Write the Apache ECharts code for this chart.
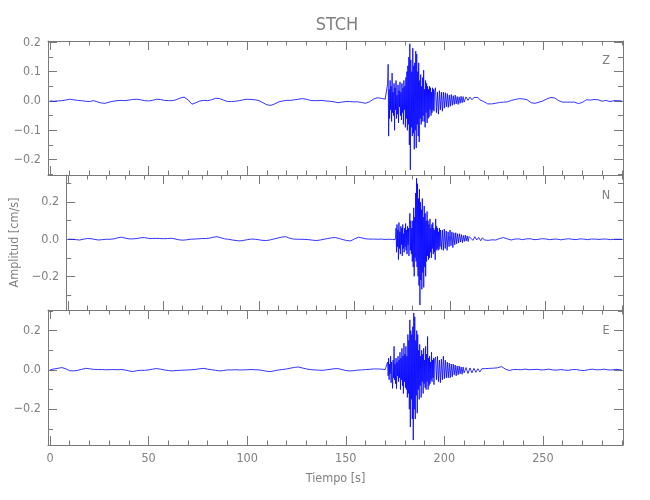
<!DOCTYPE html>
<html>
<head>
<meta charset="utf-8">
<script src="https://cdn.jsdelivr.net/npm/echarts@6/dist/echarts.min.js"></script>
<style>html,body{margin:0;padding:0;background:#fff}#c{width:650px;height:500px}</style>
</head>
<body>
<div id="c"></div>
<script>
// ---- sampling of the segments (seconds) ----
const QUIET_T0 = 0,      QUIET_DT = 2;     // 0 .. 170
const PEAK_T0 = 170.25,  PEAK_DT = 0.25;   // 170.25 .. 195
const DECAY_T0 = 195.5,  DECAY_DT = 0.5;   // 195.5 .. 210
const CODA_T0 = 211,     CODA_DT = 1;      // 211 .. 290

// ---- Z component (cm/s) ----
const zQuiet = [0.000,-0.001,0.000,0.001,0.003,0.006,0.004,0.002,0.001,-0.001,
 -0.002,0.001,-0.003,-0.007,-0.008,-0.004,-0.001,0.001,0.002,0.001,
 0.003,0.005,0.006,0.004,0.001,0.000,0.002,0.006,0.005,0.002,
 0.001,0.001,0.004,0.010,0.013,0.004,-0.011,-0.006,0.000,0.002,
 0.001,0.004,0.009,0.008,0.003,-0.002,-0.002,-0.001,0.001,0.004,
 0.006,0.005,0.004,0.001,-0.006,-0.013,-0.015,-0.010,-0.003,0.000,
 0.002,0.002,0.004,0.006,0.008,0.006,0.002,0.001,0.001,0.002,
 0.000,-0.001,-0.003,-0.006,-0.004,-0.002,-0.002,-0.003,-0.003,-0.005,
 -0.008,-0.003,0.006,0.011,0.009,0.006];
const zPeak = [0.006,0.004,0.005,0.002,0.06,0.125,-0.12,0.04,-0.06,0.07,
 -0.03,0.05,-0.07,0.095,-0.04,0.03,-0.05,0.06,-0.1,0.045,
 -0.03,0.07,-0.06,0.02,-0.045,0.055,-0.075,0.035,-0.02,0.065,
 -0.05,0.03,-0.065,0.06,-0.04,0.045,-0.08,0.07,-0.03,0.05,
 -0.09,0.08,-0.06,0.1,-0.1,0.12,-0.08,0.15,-0.15,0.195,
 -0.235,0.14,-0.09,0.1,-0.12,0.18,-0.11,0.12,-0.165,0.13,
 -0.1,0.17,-0.16,0.16,-0.08,0.1,-0.12,0.13,-0.14,0.07,
 -0.06,0.09,-0.08,0.05,-0.07,0.08,-0.05,0.105,-0.07,0.04,
 -0.09,0.07,-0.04,0.06,-0.075,0.05,-0.06,0.04,-0.055,0.05,
 -0.03,0.045,-0.05,0.03,-0.04,0.045,-0.03,0.04,-0.035,0.03];
const zDecay = [0.045,-0.04,0.03,-0.045,0.035,-0.03,0.03,-0.035,0.03,-0.025,
 0.028,-0.02,0.025,-0.022,0.02,-0.018,0.022,-0.015,0.018,-0.012,
 0.02,-0.01,0.015,-0.012,0.014,-0.008,0.016,-0.006,0.015,-0.004];
const zCoda = [0.014,0.002,0.013,0.004,0.012,0.006,0.012,0.004,0.008,-0.002,
 -0.006,-0.01,-0.006,-0.01,-0.004,-0.008,-0.002,-0.005,-0.001,-0.004,
 0.000,-0.003,0.001,0.002,0.003,0.005,0.007,0.008,0.007,0.007,
 0.006,0.004,-0.002,-0.006,-0.008,-0.008,-0.006,-0.004,-0.002,0.000,
 0.003,0.007,0.011,0.012,0.012,0.010,0.006,0.001,-0.003,-0.004,
 -0.004,-0.004,-0.003,-0.004,-0.002,-0.004,-0.007,-0.009,-0.008,-0.005,
 -0.001,0.004,0.006,0.003,0.002,0.005,0.006,0.004,0.002,-0.001,
 0.001,0.002,-0.001,-0.002,0.000,0.001,0.002,0.001,0.000,0.000];

// ---- N component ----
const nQuiet = [0.000,0.000,-0.002,-0.004,0.000,0.004,0.003,-0.001,-0.004,-0.002,
 0.000,0.000,0.002,0.008,0.011,0.006,0.002,0.002,0.004,0.008,
 0.009,0.005,0.004,0.005,0.004,0.003,0.004,0.005,0.002,-0.003,
 -0.005,-0.003,0.000,0.001,0.002,0.004,0.004,0.006,0.011,0.014,
 0.008,0.002,0.000,-0.004,-0.007,-0.009,-0.006,-0.002,0.001,0.000,
 -0.003,-0.006,-0.007,-0.003,0.002,0.007,0.012,0.014,0.006,0.001,
 0.000,0.000,-0.001,-0.002,-0.005,-0.007,-0.004,0.000,0.004,0.008,
 0.009,0.004,-0.002,-0.007,-0.009,0.002,0.011,0.007,0.002,0.001,
 0.001,0.000,0.001,-0.001,0.000,-0.001];
const nPeak = [0.001,-0.001,0.000,0.002,-0.002,0.01,0.06,-0.07,0.08,-0.04,
 0.05,-0.11,0.09,-0.05,0.04,-0.08,0.07,-0.03,0.06,-0.09,
 0.08,-0.05,0.03,-0.07,0.06,-0.04,0.085,-0.06,0.05,-0.08,
 0.07,-0.03,0.06,-0.09,0.08,0.14,-0.06,0.1,-0.08,0.06,
 -0.12,0.1,-0.15,0.17,-0.2,0.12,-0.1,0.25,-0.12,0.33,
 -0.15,0.3,-0.2,0.22,-0.25,0.27,-0.355,0.2,-0.22,0.16,
 -0.27,0.22,-0.18,0.12,-0.26,0.18,-0.15,0.14,-0.2,0.1,
 -0.12,0.15,-0.09,0.1,-0.11,0.08,-0.1,0.11,-0.07,0.06,
 -0.1,0.08,-0.05,0.09,-0.08,0.06,-0.07,0.05,-0.11,0.11,
 -0.06,0.07,-0.05,0.06,-0.06,0.04,-0.055,0.06,-0.04,0.05];
const nDecay = [-0.055,0.05,-0.06,0.055,-0.05,0.045,-0.06,0.04,-0.04,0.05,
 -0.035,0.04,-0.045,0.035,-0.03,0.035,-0.025,0.03,-0.02,0.03,
 -0.015,0.025,-0.018,0.02,-0.012,0.022,-0.01,0.018,-0.012,0.015];
const nCoda = [0.012,-0.006,0.014,-0.004,0.01,-0.008,0.008,-0.004,0.006,-0.006,
 0.004,-0.003,0.002,-0.004,0.001,0.004,0.008,0.009,0.006,0.002,
 -0.002,-0.004,-0.003,0.001,0.003,0.002,0.000,-0.002,-0.001,0.002,
 0.004,0.003,0.000,-0.002,-0.003,-0.001,0.001,0.003,0.004,0.002,
 0.000,-0.002,-0.002,0.000,0.002,0.001,-0.001,-0.003,-0.002,0.000,
 0.002,0.003,0.002,0.000,-0.001,-0.002,0.000,0.002,0.003,0.001,
 -0.001,-0.002,-0.001,0.001,0.002,0.001,0.000,-0.001,0.000,0.001,
 0.002,0.001,-0.001,-0.002,-0.001,0.000,0.001,0.000,-0.001,0.000];

// ---- E component ----
const eQuiet = [0.000,0.005,0.008,0.012,0.006,-0.004,-0.005,-0.002,0.003,0.008,
 0.006,0.003,0.002,0.002,0.001,0.001,0.002,0.001,0.002,0.000,
 -0.005,-0.008,-0.004,-0.002,-0.002,0.000,0.004,0.007,0.004,0.000,
 -0.003,-0.005,-0.003,-0.002,-0.001,0.000,0.001,0.003,0.006,0.008,
 0.004,0.001,-0.002,-0.005,-0.003,0.000,0.000,0.001,0.000,0.000,
 0.001,0.002,0.001,0.000,-0.003,-0.007,-0.008,-0.004,0.000,0.002,
 0.005,0.009,0.013,0.015,0.010,0.005,0.002,0.000,-0.001,-0.002,
 0.000,0.003,0.006,0.007,0.002,-0.003,-0.005,-0.004,-0.001,0.000,
 0.002,0.003,0.005,0.005,0.004,0.002];
const ePeak = [0.002,0.003,0.002,0.004,0.04,-0.03,0.06,-0.05,0.03,-0.02,
 0.07,-0.065,0.04,-0.03,-0.094,0.05,-0.04,0.12,-0.05,0.03,
 -0.07,0.06,-0.095,0.04,-0.03,0.07,-0.06,0.05,-0.04,0.09,
 -0.1,0.06,-0.05,0.11,-0.08,0.07,-0.12,0.136,-0.06,0.08,
 -0.09,0.12,-0.1,0.07,-0.14,0.18,-0.12,0.15,-0.2,0.255,
 -0.29,0.2,-0.15,0.18,-0.25,0.22,-0.357,0.29,-0.2,0.27,
 -0.25,0.15,-0.13,0.2,-0.22,0.18,-0.1,0.1,-0.15,0.13,
 -0.08,0.07,-0.14,0.1,-0.06,0.08,-0.12,0.11,-0.07,0.05,
 -0.09,0.12,-0.1,0.08,-0.06,0.17,-0.1,0.06,-0.08,0.07,
 -0.07,0.04,-0.05,0.09,-0.06,0.05,-0.04,0.06,-0.075,0.05];
const eDecay = [0.065,-0.05,0.07,-0.06,0.05,-0.065,0.055,-0.05,0.07,-0.045,
 0.05,-0.04,0.04,-0.04,0.035,-0.04,0.03,-0.035,0.03,-0.025,
 0.025,-0.03,0.02,-0.025,0.02,-0.02,0.015,-0.022,0.015,-0.015];
const eCoda = [0.012,-0.018,0.01,-0.015,0.008,-0.012,0.006,-0.01,0.006,-0.004,
 0.007,0.000,0.008,0.004,0.009,0.006,0.011,0.014,0.017,0.012,
 0.004,-0.002,-0.003,-0.002,0.002,0.004,0.002,0.000,0.001,0.003,
 0.004,0.003,0.001,0.000,0.002,0.004,0.003,0.001,0.000,-0.001,
 0.001,0.003,0.004,0.002,0.000,-0.002,-0.001,0.001,0.002,0.001,
 -0.001,-0.003,-0.002,0.000,0.002,0.003,0.002,0.000,-0.002,-0.004,
 -0.003,-0.001,0.001,0.003,0.004,0.003,0.001,0.000,0.001,0.003,
 0.004,0.002,0.000,-0.001,0.000,0.002,0.003,0.002,0.001,0.000];

// ---- ticks & texts ----
const xMajor = [0, 50, 100, 150, 200, 250];
const xMinor = [10,20,30,40,60,70,80,90,110,120,130,140,160,170,180,190,210,220,230,240,260,270,280,290];
const zMajor = [-0.2, -0.1, 0, 0.1, 0.2];
const zMinor = [-0.25, -0.15, -0.05, 0.05, 0.15];
const neMajor = [-0.2, 0, 0.2];
const neMinor = [-0.3, -0.1, 0.1, 0.3];
const componentNames = ['Z', 'N', 'E'];
const stationName = 'STCH';

function trace(q, p, d, c) {
  const pts = [];
  q.forEach((v, i) => pts.push([QUIET_T0 + i * QUIET_DT, v]));
  p.forEach((v, i) => pts.push([PEAK_T0 + i * PEAK_DT, v]));
  d.forEach((v, i) => pts.push([DECAY_T0 + i * DECAY_DT, v]));
  c.forEach((v, i) => pts.push([CODA_T0 + i * CODA_DT, v]));
  return pts;
}

const FONT = '"Liberation Sans Narrow", "DejaVu Sans Condensed", sans-serif';
const TXT = '#808080', LINE = '#7a7a7a';
const X_MIN = -1, X_MAX = 290.6;
const panels = [
  { top: 41, height: 134, min: -0.2525, max: 0.2045, major: zMajor, minor: zMinor, data: trace(zQuiet, zPeak, zDecay, zCoda) },
  { top: 175, height: 135, min: -0.382, max: 0.347, major: neMajor, minor: neMinor, data: trace(nQuiet, nPeak, nDecay, nCoda) },
  { top: 310, height: 135, min: -0.382, max: 0.305, major: neMajor, minor: neMinor, data: trace(eQuiet, ePeak, eDecay, eCoda) }
];

const grids = [], xAxes = [], yAxes = [], series = [];
panels.forEach((p, g) => {
  grids.push({ left: 48, right: 27, top: p.top, height: p.height, containLabel: false });
  const isBottom = g === 2;
  const mkX = (pos, vals, len, lineOn, labels) => ({
    type: 'value', gridIndex: g, position: pos, min: X_MIN, max: X_MAX,
    axisLine: { show: lineOn, onZero: false, lineStyle: { color: LINE, width: 1 } },
    axisTick: { show: true, inside: true, length: len, customValues: vals, lineStyle: { color: LINE } },
    axisLabel: { show: labels, customValues: vals, color: TXT, fontFamily: FONT, fontSize: 12.5, margin: 7 },
    splitLine: { show: false }
  });
  const bx = mkX('bottom', xMajor, 9, true, isBottom);
  if (isBottom) {
    bx.name = 'Tiempo [s]'; bx.nameLocation = 'middle'; bx.nameGap = 27;
    bx.nameTextStyle = { color: TXT, fontFamily: FONT, fontSize: 12.5 };
  }
  const xi = xAxes.length;
  xAxes.push(bx, mkX('bottom', xMinor, 4.5, false, false), mkX('top', xMajor, 9, true, false), mkX('top', xMinor, 4.5, false, false));

  const fmt = v => (Math.abs(v) < 1e-9 ? '0.0' : v.toFixed(1).replace('-', '\u2212'));
  const mkY = (pos, vals, len, lineOn, labels) => ({
    type: 'value', gridIndex: g, position: pos, min: p.min, max: p.max,
    axisLine: { show: lineOn, onZero: false, lineStyle: { color: LINE, width: 1 } },
    axisTick: { show: true, inside: true, length: len, customValues: vals, lineStyle: { color: LINE } },
    axisLabel: { show: labels, customValues: vals, formatter: fmt, color: TXT, fontFamily: FONT, fontSize: 12.5, margin: 7 },
    splitLine: { show: false }
  });
  const ly = mkY('left', p.major, 9, true, true);
  if (g === 1) {
    ly.name = 'Amplitud [cm/s]'; ly.nameLocation = 'middle'; ly.nameGap = 32;
    ly.nameTextStyle = { color: TXT, fontFamily: FONT, fontSize: 12.5 };
  }
  const yi = yAxes.length;
  yAxes.push(ly, mkY('left', p.minor, 5, false, false), mkY('right', p.major, 9, true, false), mkY('right', p.minor, 5, false, false));

  series.push({
    type: 'line', xAxisIndex: xi, yAxisIndex: yi, data: p.data,
    showSymbol: false, symbol: 'none', sampling: null,
    lineStyle: { color: '#0000ff', width: 0.8 }, animation: false, z: 1
  });
});

const chart = echarts.init(document.getElementById('c'), null, { renderer: 'canvas' });
chart.setOption({
  backgroundColor: '#fff',
  animation: false,
  grid: grids, xAxis: xAxes, yAxis: yAxes, series: series,
  graphic: [
    { type: 'text', x: 337, y: 25, style: { text: stationName, align: 'center', verticalAlign: 'middle', fill: TXT, fontFamily: FONT, fontSize: 18 } },
    { type: 'text', x: 606, y: 61, style: { text: componentNames[0], align: 'center', verticalAlign: 'middle', fill: TXT, fontFamily: FONT, fontSize: 12.5 } },
    { type: 'text', x: 606, y: 196, style: { text: componentNames[1], align: 'center', verticalAlign: 'middle', fill: TXT, fontFamily: FONT, fontSize: 12.5 } },
    { type: 'text', x: 606, y: 331, style: { text: componentNames[2], align: 'center', verticalAlign: 'middle', fill: TXT, fontFamily: FONT, fontSize: 12.5 } }
  ]
});
</script>
</body>
</html>
